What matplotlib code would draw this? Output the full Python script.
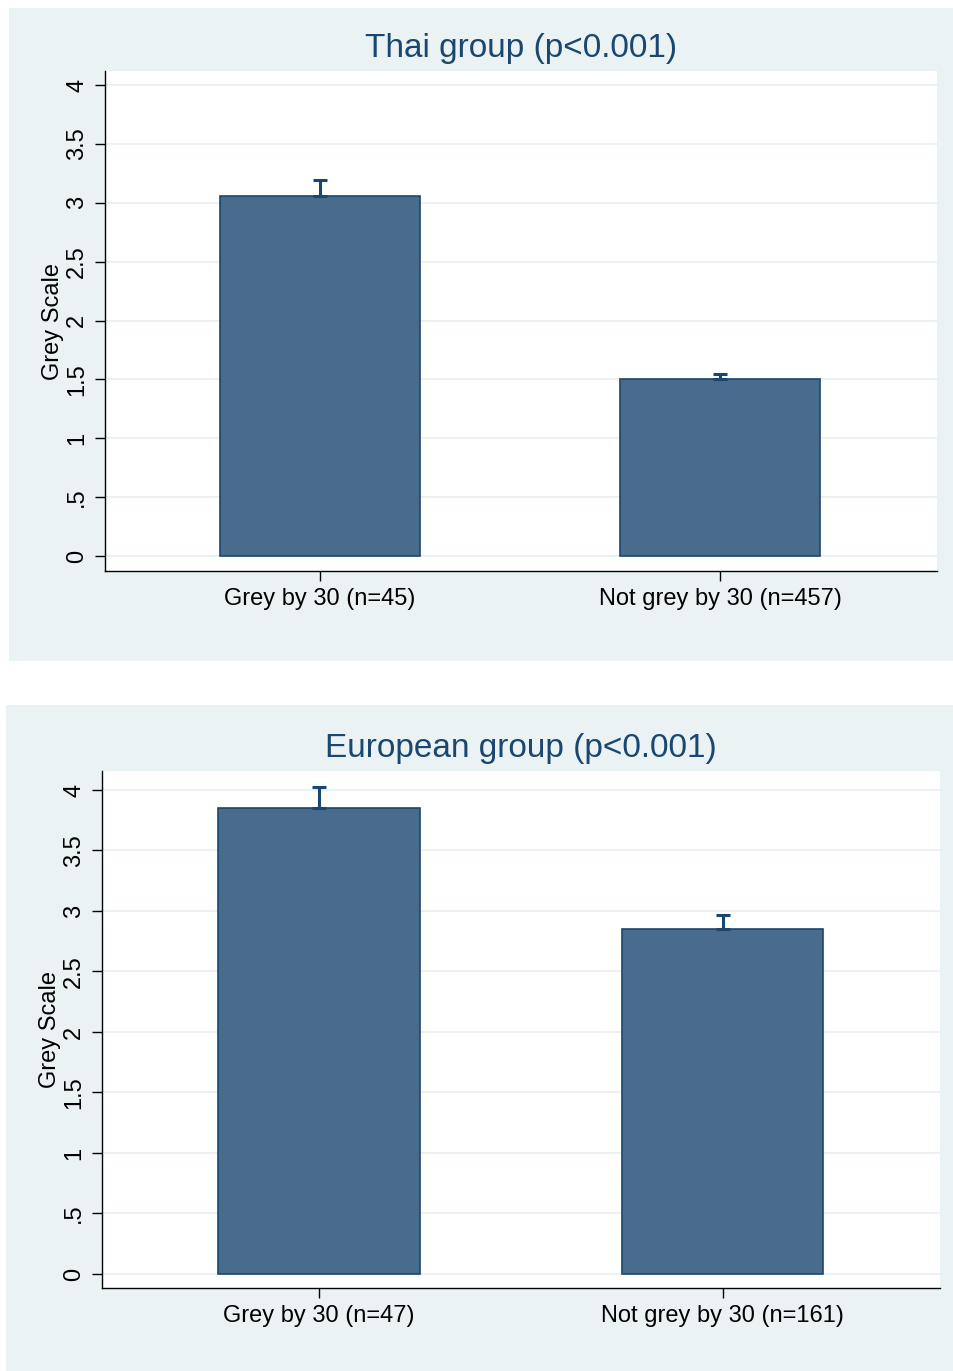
import matplotlib.pyplot as plt
from matplotlib.patches import Rectangle

# data
groups = ['Grey by 30', 'Not grey by 30']
thai_n = [45, 457]
thai_mean = [3.06, 1.50]
thai_upper = [3.19, 1.545]
euro_n = [47, 161]
euro_mean = [3.85, 2.85]
euro_upper = [4.025, 2.965]
yticks = [0, 0.5, 1, 1.5, 2, 2.5, 3, 3.5, 4]
ytick_labels = ['0', '.5', '1', '1.5', '2', '2.5', '3', '3.5', '4']

bg = '#EAF2F3'
navy = '#1A476F'
fill = '#4A6C8C'

plt.rcParams['font.family'] = ['Liberation Sans', 'DejaVu Sans']

fig = plt.figure(figsize=(9.54, 13.71), dpi=100)
W, H = 954, 1371

def px_rect(x0, y0, x1, y1):
    return [x0 / W, 1 - y1 / H, (x1 - x0) / W, (y1 - y0) / H]

# panel backgrounds
for (x0, y0, x1, y1) in [(9, 8, 954, 661), (6, 705, 954, 1371)]:
    l, b, w, h = px_rect(x0, y0, x1, y1)
    fig.patches.append(Rectangle((l, b), w, h, transform=fig.transFigure,
                                 facecolor=bg, edgecolor='none', zorder=-5))

def panel(box, means, upper, ns, title, xlim, ylim, title_y):
    ax = fig.add_axes(px_rect(*box))
    ax.set_facecolor('white')
    xs = [0, 1]
    ax.bar(xs, means, width=0.5, color=fill, edgecolor=navy, linewidth=1.2, zorder=3)
    err = [[0, 0], [u - m for u, m in zip(upper, means)]]
    ax.errorbar(xs, means, yerr=err, fmt='none', ecolor=navy, elinewidth=2.2,
                capsize=5, capthick=2.2, zorder=4)
    ax.set_xlim(*xlim)
    ax.set_ylim(*ylim)
    ax.set_yticks(yticks)
    ax.set_yticklabels(ytick_labels, rotation=90, va='center', fontsize=17)
    ax.set_xticks(xs)
    ax.set_xticklabels([f'{g} (n={n})' for g, n in zip(groups, ns)], fontsize=17)
    ax.tick_params(axis='both', direction='out', length=7, width=1, color='black', pad=5)
    ax.yaxis.grid(True, color=bg, linewidth=1.5, zorder=0)
    ax.set_axisbelow(True)
    for s in ['top', 'right']:
        ax.spines[s].set_visible(False)
    for s in ['left', 'bottom']:
        ax.spines[s].set_color('black')
        ax.spines[s].set_linewidth(1)
    ax.set_ylabel('Grey Scale', fontsize=17, labelpad=2)
    fig.text(0.546, 1 - title_y / H, title, ha='center', va='center',
             fontsize=24, color=navy)
    return ax

panel((105, 71, 937, 571), thai_mean, thai_upper, thai_n, 'Thai group (p<0.001)',
      (-0.5375, 1.5425), (-0.127, 4.119), 49)
panel((102, 771, 940, 1288), euro_mean, euro_upper, euro_n, 'European group (p<0.001)',
      (-0.538, 1.539), (-0.116, 4.157), 749)

fig.savefig('out.png', dpi=100, facecolor='white')
